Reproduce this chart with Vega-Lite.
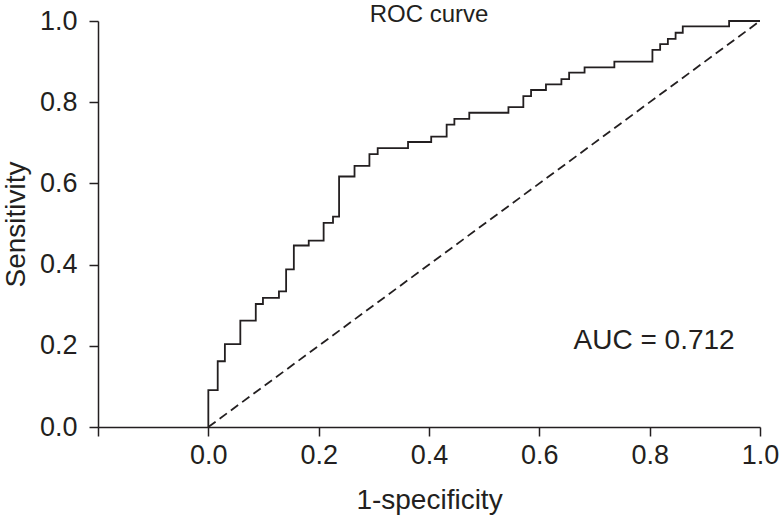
{
  "$schema": "https://vega.github.io/schema/vega-lite/v6.json",
  "width": 662,
  "height": 406,
  "autosize": {"type": "none"},
  "padding": {"left": 98, "top": 21, "right": 19, "bottom": 90},
  "background": "white",
  "config": {
    "view": {"stroke": null},
    "font": "Liberation Sans",
    "axis": {
      "grid": false,
      "domainColor": "#231f20",
      "domainWidth": 1.5,
      "tickColor": "#231f20",
      "tickWidth": 1.5,
      "tickSize": 9,
      "labelColor": "#231f20",
      "titleColor": "#231f20",
      "labelFont": "Liberation Sans",
      "titleFont": "Liberation Sans",
      "labelFontSize": 27,
      "titleFontSize": 28,
      "titleFontWeight": "normal"
    }
  },
  "datasets": {
    "roc": [
      {"fpr": 0, "tpr": 0},
      {"fpr": 0, "tpr": 0.091},
      {"fpr": 0.017, "tpr": 0.162},
      {"fpr": 0.030, "tpr": 0.204},
      {"fpr": 0.058, "tpr": 0.262},
      {"fpr": 0.086, "tpr": 0.303},
      {"fpr": 0.099, "tpr": 0.318},
      {"fpr": 0.128, "tpr": 0.334},
      {"fpr": 0.141, "tpr": 0.388},
      {"fpr": 0.155, "tpr": 0.447},
      {"fpr": 0.182, "tpr": 0.459},
      {"fpr": 0.209, "tpr": 0.503},
      {"fpr": 0.226, "tpr": 0.518},
      {"fpr": 0.237, "tpr": 0.617},
      {"fpr": 0.265, "tpr": 0.643},
      {"fpr": 0.292, "tpr": 0.672},
      {"fpr": 0.307, "tpr": 0.687},
      {"fpr": 0.362, "tpr": 0.702},
      {"fpr": 0.404, "tpr": 0.715},
      {"fpr": 0.432, "tpr": 0.745},
      {"fpr": 0.446, "tpr": 0.759},
      {"fpr": 0.473, "tpr": 0.774},
      {"fpr": 0.544, "tpr": 0.788},
      {"fpr": 0.571, "tpr": 0.815},
      {"fpr": 0.585, "tpr": 0.830},
      {"fpr": 0.612, "tpr": 0.844},
      {"fpr": 0.640, "tpr": 0.857},
      {"fpr": 0.654, "tpr": 0.873},
      {"fpr": 0.682, "tpr": 0.886},
      {"fpr": 0.736, "tpr": 0.900},
      {"fpr": 0.805, "tpr": 0.929},
      {"fpr": 0.819, "tpr": 0.943},
      {"fpr": 0.833, "tpr": 0.956},
      {"fpr": 0.847, "tpr": 0.971},
      {"fpr": 0.860, "tpr": 0.987},
      {"fpr": 0.944, "tpr": 1.0},
      {"fpr": 1.0, "tpr": 1.0}
    ],
    "diag": [
      {"fpr": 0, "tpr": 0},
      {"fpr": 1, "tpr": 1}
    ],
    "note": [
      {"fpr": 0.808, "tpr": 0.195, "label": "AUC = 0.712", "size": 28},
      {"fpr": 0.4, "tpr": 1.0, "label": "ROC curve", "size": 24}
    ]
  },
  "layer": [
    {
      "data": {"name": "diag"},
      "mark": {"type": "line", "color": "#231f20", "strokeWidth": 1.8, "strokeDash": [9, 5]},
      "encoding": {
        "x": {
          "field": "fpr",
          "type": "quantitative",
          "scale": {"domain": [-0.2, 1.0], "nice": false, "zero": false},
          "axis": {
            "title": "1-specificity",
            "values": [-0.2, 0, 0.2, 0.4, 0.6, 0.8, 1.0],
            "labelExpr": "datum.value < -0.1 ? '' : format(datum.value, '.1f')",
            "labelPadding": 6,
            "titlePadding": 18,
            "labelFlush": false
          }
        },
        "y": {
          "field": "tpr",
          "type": "quantitative",
          "scale": {"domain": [0, 1.0], "nice": false},
          "axis": {
            "title": "Sensitivity",
            "values": [0, 0.2, 0.4, 0.6, 0.8, 1.0],
            "format": ".1f",
            "labelPadding": 12,
            "titlePadding": 9,
            "labelFlush": false
          }
        }
      }
    },
    {
      "data": {"name": "roc"},
      "mark": {"type": "line", "interpolate": "step-after", "color": "#231f20", "strokeWidth": 1.8},
      "encoding": {
        "x": {"field": "fpr", "type": "quantitative"},
        "y": {"field": "tpr", "type": "quantitative"}
      }
    },
    {
      "data": {"name": "note"},
      "mark": {"type": "text", "font": "Liberation Sans", "color": "#231f20", "align": "center", "baseline": "alphabetic", "dy": 1},
      "encoding": {
        "x": {"field": "fpr", "type": "quantitative"},
        "y": {"field": "tpr", "type": "quantitative"},
        "text": {"field": "label"},
        "size": {"field": "size", "type": "quantitative", "scale": null, "legend": null}
      }
    }
  ]
}
